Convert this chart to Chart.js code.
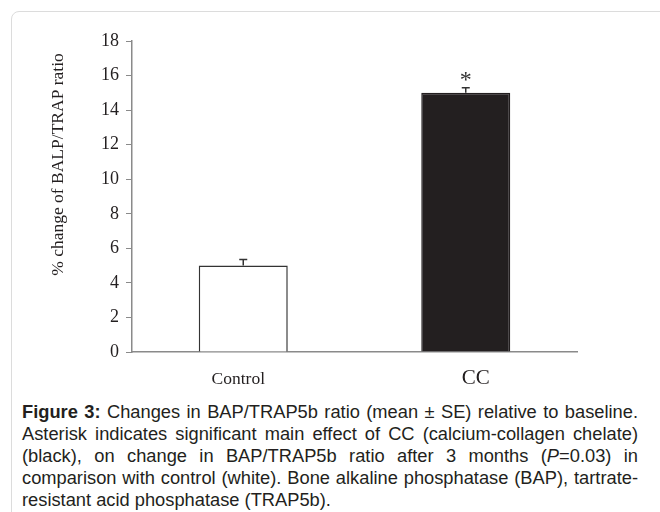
<!DOCTYPE html>
<html>
<head>
<meta charset="utf-8">
<script src="https://cdn.jsdelivr.net/npm/chart.js@4.4.1/dist/chart.umd.min.js"></script>
<style>
  html, body { margin:0; padding:0; background:#fff; width:660px; height:512px; overflow:hidden; }
  #frame { position:absolute; left:11px; top:11px; width:700px; height:600px;
           border:1px solid #dcdcdc; border-radius:8px; box-sizing:border-box; }
  #wrap { position:absolute; left:0; top:0; width:660px; height:400px; }
  #caption { position:absolute; left:22px; top:401px; width:616px;
             font-family:"Liberation Sans", Arial, sans-serif; font-size:18.3px; line-height:22px;
             color:#231f20; text-align:justify; }
</style>
</head>
<body>
<div id="frame"></div>
<div id="wrap"><canvas id="c" width="660" height="400"></canvas></div>
<div id="caption"><b>Figure 3:</b> Changes in BAP/TRAP5b ratio (mean ± SE) relative to baseline.
Asterisk indicates significant main effect of CC (calcium-collagen chelate) (black), on change in
BAP/TRAP5b ratio after 3 months (<i>P</i>=0.03) in comparison with control (white). Bone alkaline
phosphatase (BAP), tartrate-resistant acid phosphatase (TRAP5b).</div>
<script>
// ─── Data ─────────────────────────────────────────────────────────────
const GROUPS     = ['Control', 'CC'];
const PCT_CHANGE = [5.0, 15.0];
const SE         = [0.35, 0.3];
const SIG_MARK   = ['', '*'];
const Y_TICKS    = [0, 2, 4, 6, 8, 10, 12, 14, 16, 18];

const INK   = '#231f20';
const AXIS  = '#8a8a8a';
const SERIF = '"Liberation Serif", "Times New Roman", serif';

// category labels: the original sets them a little off the bar centres, in two sizes
const LABEL_SIZE  = [17.5, 21];
const LABEL_NUDGE = [-5, 10];

// error bars (upper only) + significance asterisk
const errorBars = {
  id: 'errorBars',
  afterDatasetsDraw(chart) {
    const { ctx, scales: { y } } = chart;
    const meta = chart.getDatasetMeta(0);
    ctx.save();
    ctx.strokeStyle = '#333';
    ctx.lineWidth = 1.5;
    meta.data.forEach((bar, i) => {
      const yv = y.getPixelForValue(PCT_CHANGE[i]);
      const yt = y.getPixelForValue(PCT_CHANGE[i] + SE[i]);
      ctx.beginPath();
      ctx.moveTo(bar.x, yv);
      ctx.lineTo(bar.x, yt);
      ctx.moveTo(bar.x - 4, yt);
      ctx.lineTo(bar.x + 4, yt);
      ctx.stroke();
      if (SIG_MARK[i]) {
        ctx.fillStyle = '#333';
        ctx.font = '24px ' + SERIF;
        ctx.textAlign = 'center';
        ctx.textBaseline = 'alphabetic';
        ctx.fillText(SIG_MARK[i], bar.x, yt - 1);
      }
    });
    ctx.restore();
  }
};

// y title (a bit above centre, like the original) and the category labels
const axisText = {
  id: 'axisText',
  afterDraw(chart) {
    const { ctx, chartArea, scales: { x } } = chart;
    ctx.save();
    ctx.fillStyle = INK;
    ctx.textAlign = 'center';
    ctx.textBaseline = 'alphabetic';
    GROUPS.forEach((g, i) => {
      ctx.font = LABEL_SIZE[i] + 'px ' + SERIF;
      ctx.fillText(g, x.getPixelForValue(i) + LABEL_NUDGE[i], chartArea.bottom + 31.5);
    });
    ctx.translate(chartArea.left - 74, (chartArea.top + chartArea.bottom) / 2 - 32);
    ctx.rotate(-Math.PI / 2);
    ctx.font = '17.5px ' + SERIF;
    ctx.textBaseline = 'middle';
    ctx.fillText('% change of BALP/TRAP ratio', 0, 0);
    ctx.restore();
  }
};

new Chart(document.getElementById('c').getContext('2d'), {
  type: 'bar',
  data: {
    labels: GROUPS,
    datasets: [{
      data: PCT_CHANGE,
      backgroundColor: ['#ffffff', INK],
      borderColor: ['#333333', INK],
      borderWidth: 1.5,
      borderSkipped: 'bottom',
      categoryPercentage: 1.0,
      barPercentage: 0.4
    }]
  },
  options: {
    responsive: false,
    animation: false,
    events: [],
    layout: { padding: { left: 0, right: 83, top: 41, bottom: 0 } },
    plugins: { legend: { display: false }, tooltip: { enabled: false } },
    scales: {
      x: {
        grid: { display: true, drawOnChartArea: false, drawTicks: false },
        border: { display: true, color: AXIS, width: 1.5 },
        ticks: { display: false },
        afterFit: (s) => { s.height = 48; }
      },
      y: {
        min: 0, max: 18,
        afterBuildTicks: (s) => { s.ticks = Y_TICKS.map(v => ({ value: v })); },
        grid: { display: true, drawOnChartArea: false, drawTicks: true, tickLength: 6, color: AXIS },
        border: { display: true, color: AXIS, width: 1.5 },
        ticks: { color: INK, padding: 7, font: { family: SERIF, size: 18 } },
        afterFit: (s) => { s.width = 132; }
      }
    }
  },
  plugins: [errorBars, axisText]
});
</script>
</body>
</html>
